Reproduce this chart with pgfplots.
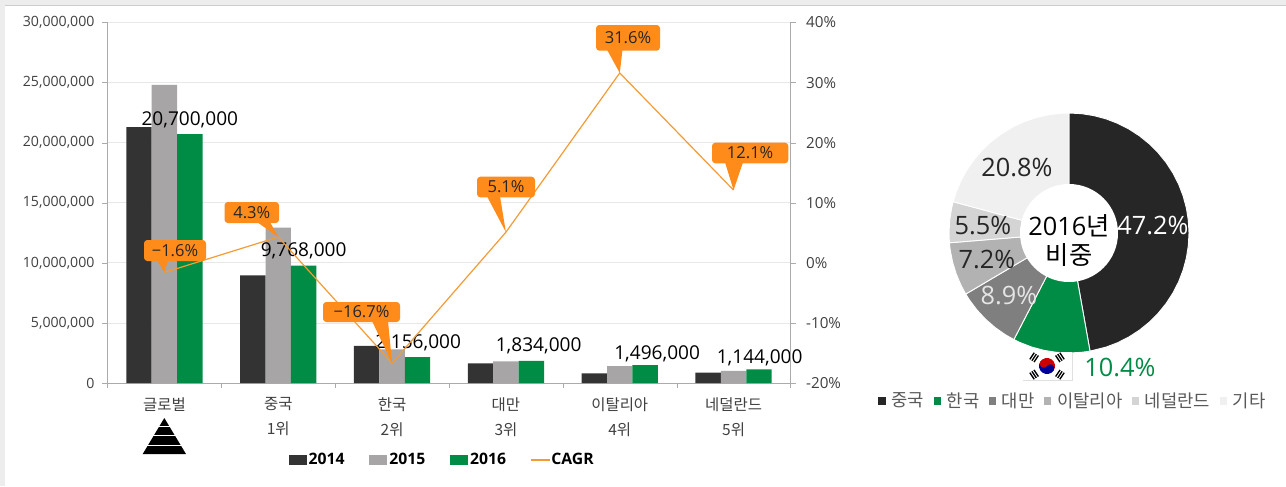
\documentclass[border=0pt]{standalone}
\usepackage{pgfplots}
\pgfplotsset{compat=1.18}
\usepackage{fontspec}
\setmainfont{Open Sans}
\newfontfamily\kr{Noto Sans CJK KR}
\definecolor{cA}{HTML}{333333}
\definecolor{cB}{HTML}{A8A5A6}
\definecolor{cC}{HTML}{008C45}
\definecolor{cLine}{HTML}{F39C35}
\definecolor{cCall}{HTML}{FF8C1A}
\definecolor{cGrid}{HTML}{E8E8E8}
\definecolor{cAxis}{HTML}{ABABAB}
\definecolor{cText}{HTML}{404040}
\definecolor{pA}{HTML}{262626}
\definecolor{pC}{HTML}{7F7F7F}
\definecolor{pD}{HTML}{B2B2B2}
\definecolor{pE}{HTML}{D4D4D4}
\definecolor{pF}{HTML}{F0F0F0}
\newcommand\fs[1]{\fontsize{#1}{#1}\selectfont}
% box x0,y0,x1,y1 ; tail base left,right ; tip coordinate ; text
\newcommand\callout[8]{%
  \fill[cCall] (#5,#4-1) -- (#7) -- (#6,#4-1) -- cycle;
  \fill[cCall,rounded corners=2.5pt] (#1,#2) rectangle (#3,#4);
  \node[text=black!85,font=\fs{12.4}] at ({(#1+#3)/2},{(#2+#4)/2}) {#8};
}
\begin{document}
\begin{tikzpicture}
\begin{scope}[x=0.75pt,y=-0.75pt]
\path[use as bounding box,fill=white] (0,0) rectangle (1286,486);
\fill[black!7] (0,0) rectangle (1286,5);
\fill[black!7] (0,0) rectangle (5,486);
\draw[black!20,line width=0.6pt] (5,5.2) -- (1286,5.2);
\end{scope}
% ---------- bars ----------
\begin{axis}[
  at={(80.625pt,-287.25pt)},anchor=south west,
  scale only axis,width=512.25pt,height=270.4pt,
  clip=false,
  xmin=-0.5,xmax=5.5,ymin=0,ymax=30000000,
  axis y line*=left,axis x line*=bottom,
  axis line style={draw=cAxis,-},
  tick align=outside,
  major tick length=3.75pt,minor tick length=3.75pt,
  ytick={0,5000000,10000000,15000000,20000000,25000000,30000000},
  yticklabels={0,{5,000,000},{10,000,000},{15,000,000},{20,000,000},{25,000,000},{30,000,000}},
  scaled y ticks=false,
  ymajorgrids,
  grid style={draw=cGrid,line width=0.6pt},
  y tick style={draw=cAxis},
  xtick={0,1,2,3,4,5},
  xticklabels={{\kr 글로벌\\\ },{\kr 중국\\\kr 1위},{\kr 한국\\\kr 2위},{\kr 대만\\\kr 3위},{\kr 이탈리아\\\kr 4위},{\kr 네덜란드\\\kr 5위}},
  x tick label style={align=center,font=\fontsize{11.6}{18.8}\selectfont,text=cText,yshift=-3.6pt},
  y tick label style={font=\fs{10.6},text=cText,xshift=-2.5pt},
  minor xtick={-0.5,0.5,1.5,2.5,3.5,4.5,5.5},
  major x tick style={draw=none},
  minor x tick style={draw=cAxis},
  ybar=0pt,bar width=19.05pt,
  legend style={at={(0.4885,-0.2125)},anchor=center,draw=none,fill=none,text=cText,
    nodes={inner xsep=0pt},
    legend columns=4,
    /tikz/every odd column/.append style={column sep=1.5pt},
    /tikz/every even column/.append style={column sep=18.6pt}},
]
\addplot[fill=cA,draw=none,legend image code/.code={\fill[cA] (0,-3.75pt) rectangle (13.5pt,3.75pt);}] coordinates {(0,21300000)(1,8960000)(2,3100000)(3,1640000)(4,800000)(5,860000)};
\addlegendentry{\bfseries\fs{11.8}2014}
\addplot[fill=cB,draw=none,legend image code/.code={\fill[cB] (0,-3.75pt) rectangle (13.5pt,3.75pt);}] coordinates {(0,24800000)(1,12920000)(2,2800000)(3,1800000)(4,1410000)(5,1000000)};
\addlegendentry{\bfseries\fs{11.8}2015}
\addplot[fill=cC,draw=none,legend image code/.code={\fill[cC] (0,-3.75pt) rectangle (13.5pt,3.75pt);}] coordinates {(0,20700000)(1,9768000)(2,2156000)(3,1834000)(4,1496000)(5,1144000)};
\addlegendentry{\bfseries\fs{11.8}2016}
\addlegendimage{legend image code/.code={\fill[cLine] (0,-0.5pt) rectangle (13.5pt,0.5pt);}}
\addlegendentry{\bfseries\fs{11.8}CAGR}
\tikzset{every node/.append style={font=\fs{14.3},text=black}}
\node[yshift=10.8pt] at (axis cs:0.223,20700000) {20,700,000};
\node[yshift=11pt] at (axis cs:1.223,9768000) {9,768,000};
\node[yshift=10.8pt,xshift=0.5pt] at (axis cs:2.223,2156000) {2,156,000};
\node[yshift=11pt,xshift=5.5pt] at (axis cs:3.223,1834000) {1,834,000};
\node[yshift=8.6pt,xshift=9pt] at (axis cs:4.223,1496000) {1,496,000};
\node[yshift=8.6pt,xshift=0.5pt] at (axis cs:5.223,1144000) {1,144,000};
\end{axis}
% ---------- CAGR line ----------
\begin{axis}[
  at={(80.625pt,-287.25pt)},anchor=south west,
  scale only axis,width=512.25pt,height=270.4pt,
  clip=false,
  xmin=-0.5,xmax=5.5,ymin=-20,ymax=40,
  axis y line*=right,axis x line=none,
  axis line style={draw=cAxis,-},
  tick align=outside,major tick length=3.75pt,
  ytick={-20,-10,0,10,20,30,40},
  yticklabels={-20\%,-10\%,0\%,10\%,20\%,30\%,40\%},
  y tick style={draw=cAxis},
  y tick label style={font=\fs{11.4},text=cText,xshift=4.5pt},
]
\addplot[cLine,line width=0.9pt] coordinates {(0,-1.6)(1,4.3)(2,-16.7)(3,5.1)(4,31.6)(5,12.1)};
\coordinate (p0) at (axis cs:0,-1.6);
\coordinate (p1) at (axis cs:1,4.3);
\coordinate (p2) at (axis cs:2,-16.7);
\coordinate (p3) at (axis cs:3,5.1);
\coordinate (p4) at (axis cs:4,31.6);
\coordinate (p5) at (axis cs:5,12.1);
\end{axis}
\begin{scope}[x=0.75pt,y=-0.75pt]
\callout{144}{240}{206}{261}{157}{168}{p0}{−1.6\%}
\callout{224.5}{202}{279}{223}{257}{270}{p1}{4.3\%}
\callout{323}{302}{400}{322}{372}{388}{p2}{−16.7\%}
\callout{477}{176.7}{535}{197.3}{487}{500}{p3}{5.1\%}
\callout{596}{25}{660}{50.7}{607}{622.5}{p4}{31.6\%}
\callout{712}{142.7}{788.3}{163.3}{725}{743}{p5}{12.1\%}
% pyramid
\fill[black] (164.3,418) -- (186,454) -- (142.7,454) -- cycle;
\foreach \yy in {426,435,445}{\draw[white,line width=0.7pt] (140,\yy) -- (190,\yy);}
\end{scope}
% ---------- doughnut ----------
\begin{axis}[
  at={(711.75pt,-264.75pt)},anchor=south west,
  scale only axis,width=180pt,height=180pt,
  hide axis,clip=false,
  xmin=-120,xmax=120,ymin=-120,ymax=120,
  legend style={at={(0.512,-0.2)},anchor=center,draw=none,fill=none,text=black!65,
    nodes={inner xsep=0pt},
    legend columns=6,
    /tikz/every odd column/.append style={column sep=4.5pt},
    /tikz/every even column/.append style={column sep=7pt}},
  legend image code/.code={\fill[#1,draw=none] (0,-2.7pt) rectangle (5.4pt,2.7pt);},
]
\addplot[data cs=polar,fill=pA,draw=white,line width=0.7pt] coordinates {(0,0)(90,120)(84,120)(78,120)(72,120)(66,120)(60,120)(54,120)(48,120)(42,120)(36,120)(30,120)(24,120)(18,120)(12,120)(6,120)(0,120)(-6,120)(-12,120)(-18,120)(-24,120)(-30,120)(-36,120)(-42,120)(-48,120)(-54,120)(-60,120)(-66,120)(-72,120)(-79.92,120)(0,0)};
\addlegendentry{\kr\fs{13.3}중국}
\addplot[data cs=polar,fill=cC,draw=white,line width=0.7pt] coordinates {(0,0)(-79.92,120)(-84,120)(-90,120)(-96,120)(-102,120)(-108,120)(-114,120)(-117.36,120)(0,0)};
\addlegendentry{\kr\fs{13.3}한국}
\addplot[data cs=polar,fill=pC,draw=white,line width=0.7pt] coordinates {(0,0)(-117.36,120)(-122,120)(-128,120)(-134,120)(-140,120)(-146,120)(-149.4,120)(0,0)};
\addlegendentry{\kr\fs{13.3}대만}
\addplot[data cs=polar,fill=pD,draw=white,line width=0.7pt] coordinates {(0,0)(-149.4,120)(-154,120)(-160,120)(-166,120)(-172,120)(-175.32,120)(0,0)};
\addlegendentry{\kr\fs{13.3}이탈리아}
\addplot[data cs=polar,fill=pE,draw=white,line width=0.7pt] coordinates {(0,0)(-175.32,120)(-180,120)(-186,120)(-192,120)(-195.12,120)(0,0)};
\addlegendentry{\kr\fs{13.3}네덜란드}
\addplot[data cs=polar,fill=pF,draw=white,line width=0.7pt] coordinates {(0,0)(-195.12,120)(-200,120)(-206,120)(-212,120)(-218,120)(-224,120)(-230,120)(-236,120)(-242,120)(-248,120)(-254,120)(-260,120)(-266,120)(-270,120)(0,0)};
\addlegendentry{\kr\fs{13.3}기타}
\fill[white] (axis cs:0,0) circle[radius=36.75pt];
\tikzset{every node/.append style={font=\fs{19}}}
\node[text=white] at (axis cs:84,7) {47.2\%};
\node[text=black!85] at (axis cs:-52,66) {20.8\%};
\node[text=black!85] at (axis cs:-86,7) {5.5\%};
\node[text=black!85] at (axis cs:-82,-27) {7.2\%};
\node[text=white!90!black] at (axis cs:-60,-62) {8.9\%};
\node[text=cC] at (axis cs:51,-134) {10.4\%};
\node[text=black] at (axis cs:0,7) {2016{\kr 년}};
\node[text=black,font=\kr\fs{19}] at (axis cs:0,-22) {비중};
\end{axis}
% flag
\begin{scope}[x=0.75pt,y=-0.75pt]
\fill[black!12] (1023,353) rectangle (1073,381);
\fill[white] (1022,352) rectangle (1072,380);
\begin{scope}[shift={(1047,366)}]
\begin{scope}[rotate=-33.7]
\fill[red!80!black] (-8,0) arc (-180:0:8) -- cycle;
\fill[blue!60!black] (-8,0) arc (180:0:8) -- cycle;
\fill[red!80!black] (-4,0) circle[radius=3pt];
\fill[blue!60!black] (4,0) circle[radius=3pt];
\end{scope}
\foreach \a in {33.7,146.3,213.7,326.3}{
\begin{scope}[rotate=\a]
\foreach \d in {13,15.5,18}{\draw[black,line width=1pt] (\d,-4) -- (\d,4);}
\end{scope}}
\end{scope}
\end{scope}
\end{tikzpicture}
\end{document}
